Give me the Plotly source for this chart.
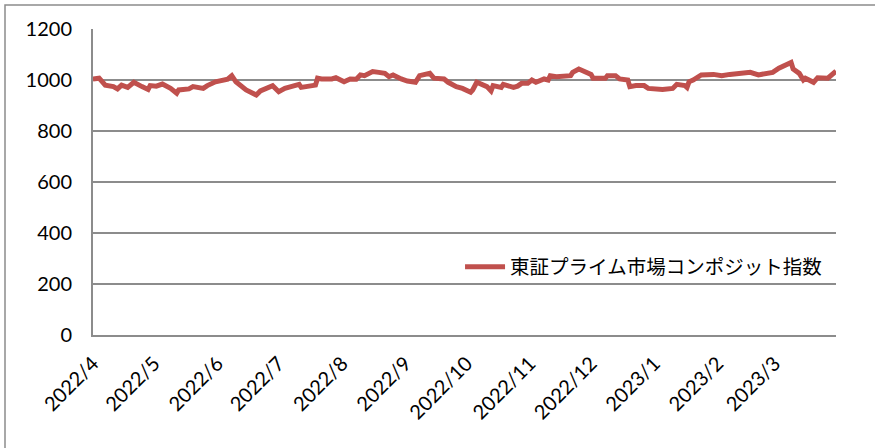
import plotly.graph_objects as go

dates = [
    "2022-04-01", "2022-04-04", "2022-04-07", "2022-04-11", "2022-04-13", "2022-04-15",
    "2022-04-18", "2022-04-21", "2022-04-25", "2022-04-28", "2022-04-29", "2022-05-02",
    "2022-05-05", "2022-05-09", "2022-05-12", "2022-05-13", "2022-05-18", "2022-05-20",
    "2022-05-25", "2022-05-27", "2022-05-31", "2022-06-03", "2022-06-06", "2022-06-08",
    "2022-06-10", "2022-06-15", "2022-06-20", "2022-06-22", "2022-06-24", "2022-06-28",
    "2022-07-01", "2022-07-04", "2022-07-07", "2022-07-11", "2022-07-12", "2022-07-15",
    "2022-07-19", "2022-07-20", "2022-07-22", "2022-07-27", "2022-07-29", "2022-08-02",
    "2022-08-05", "2022-08-08", "2022-08-10", "2022-08-12", "2022-08-16", "2022-08-19",
    "2022-08-22", "2022-08-24", "2022-08-26", "2022-08-30", "2022-09-02", "2022-09-06",
    "2022-09-08", "2022-09-13", "2022-09-15", "2022-09-20", "2022-09-22", "2022-09-26",
    "2022-09-29", "2022-10-03", "2022-10-04", "2022-10-06", "2022-10-11", "2022-10-13",
    "2022-10-14", "2022-10-18", "2022-10-19", "2022-10-24", "2022-10-26", "2022-10-28",
    "2022-10-31", "2022-11-02", "2022-11-04", "2022-11-08", "2022-11-10", "2022-11-11",
    "2022-11-14", "2022-11-21", "2022-11-22", "2022-11-25", "2022-11-28", "2022-12-01",
    "2022-12-02", "2022-12-06", "2022-12-08", "2022-12-09", "2022-12-13", "2022-12-15",
    "2022-12-19", "2022-12-20", "2022-12-23", "2022-12-27", "2022-12-29", "2023-01-05",
    "2023-01-10", "2023-01-12", "2023-01-16", "2023-01-17", "2023-01-18", "2023-01-20",
    "2023-01-24", "2023-01-30", "2023-02-03", "2023-02-07", "2023-02-13", "2023-02-15",
    "2023-02-17", "2023-02-21", "2023-02-24", "2023-02-28", "2023-03-03", "2023-03-06",
    "2023-03-09", "2023-03-10", "2023-03-13", "2023-03-15", "2023-03-16", "2023-03-20",
    "2023-03-22", "2023-03-27", "2023-03-29", "2023-03-31",
]
values = [
    1004, 1007, 980, 974, 965, 980,
    971, 991, 974, 963, 978, 976,
    984, 967, 948, 961, 965, 974,
    967, 978, 993, 997, 1003, 1017,
    993, 961, 941, 957, 963, 978,
    954, 967, 974, 983, 971, 976,
    980, 1007, 1004, 1004, 1009, 993,
    1004, 1003, 1020, 1017, 1033, 1030,
    1026, 1013, 1020, 1004, 996, 991,
    1017, 1026, 1007, 1004, 991, 974,
    967, 952, 961, 991, 974, 957,
    978, 971, 983, 971, 976, 987,
    987, 1000, 991, 1004, 1000, 1017,
    1013, 1017, 1030, 1043, 1035, 1022,
    1007, 1004, 1007, 1017, 1017, 1004,
    1000, 974, 978, 978, 967, 963,
    967, 983, 978, 971, 993, 1000,
    1020, 1022, 1017, 1022, 1026, 1030,
    1030, 1020, 1026, 1030, 1046, 1056,
    1069, 1043, 1026, 1000, 1007, 991,
    1009, 1007, 1020, 1035,
]
series_name = "東証プライム市場コンポジット指数"
month_ticks = [
    "2022-04-01", "2022-05-01", "2022-06-01", "2022-07-01", "2022-08-01", "2022-09-01",
    "2022-10-01", "2022-11-01", "2022-12-01", "2023-01-01", "2023-02-01", "2023-03-01",
]
month_labels = [
    "2022/4", "2022/5", "2022/6", "2022/7", "2022/8", "2022/9",
    "2022/10", "2022/11", "2022/12", "2023/1", "2023/2", "2023/3",
]
y_ticks = [0, 200, 400, 600, 800, 1000, 1200]

GRID = "#8c8c8c"
FONT = "Lato, 'Noto Sans CJK JP', sans-serif"

fig = go.Figure()
fig.add_trace(go.Scatter(
    x=dates, y=values, mode="lines", name=series_name,
    line=dict(color="#C0504D", width=5), showlegend=True,
))

fig.update_layout(
    width=875, height=448,
    margin=dict(l=93, r=39, t=29, b=113, autoexpand=False),
    paper_bgcolor="white", plot_bgcolor="white",
    font=dict(family=FONT, size=20, color="black"),
    showlegend=True,
    legend=dict(
        x=0.494, y=0.222, xanchor="left", yanchor="middle",
        bgcolor="rgba(0,0,0,0)", itemwidth=40,
        font=dict(family="'Noto Sans CJK JP', sans-serif", size=19.5, color="black"),
    ),
    xaxis=dict(
        type="date", range=["2022-04-01", "2023-03-31"],
        tickvals=month_ticks, ticktext=month_labels, tickangle=-45,
        showgrid=False, showline=True, linecolor=GRID, linewidth=2,
        ticks="", ticklabelstandoff=7, tickfont=dict(family=FONT, size=20),
        zeroline=False, automargin=False,
    ),
    yaxis=dict(
        range=[0, 1200], tickvals=y_ticks,
        showgrid=True, gridcolor=GRID, gridwidth=2,
        showline=True, linecolor=GRID, linewidth=2,
        ticks="", ticklabelstandoff=15,
        tickfont=dict(family=FONT, size=20),
        zeroline=False, automargin=False,
    ),
    shapes=[dict(
        type="rect", xref="paper", yref="paper",
        x0=(5 - 93) / 743, x1=(882 - 93) / 743,
        y0=(335 - 452) / 306, y1=(335 - 5) / 306,
        line=dict(color=GRID, width=1.5), fillcolor="rgba(0,0,0,0)", layer="below",
    )],
)

fig.write_html(
    "out.html",
    config={"displayModeBar": False},
    post_script="document.body.style.margin='0';document.body.style.overflow='hidden';",
)
